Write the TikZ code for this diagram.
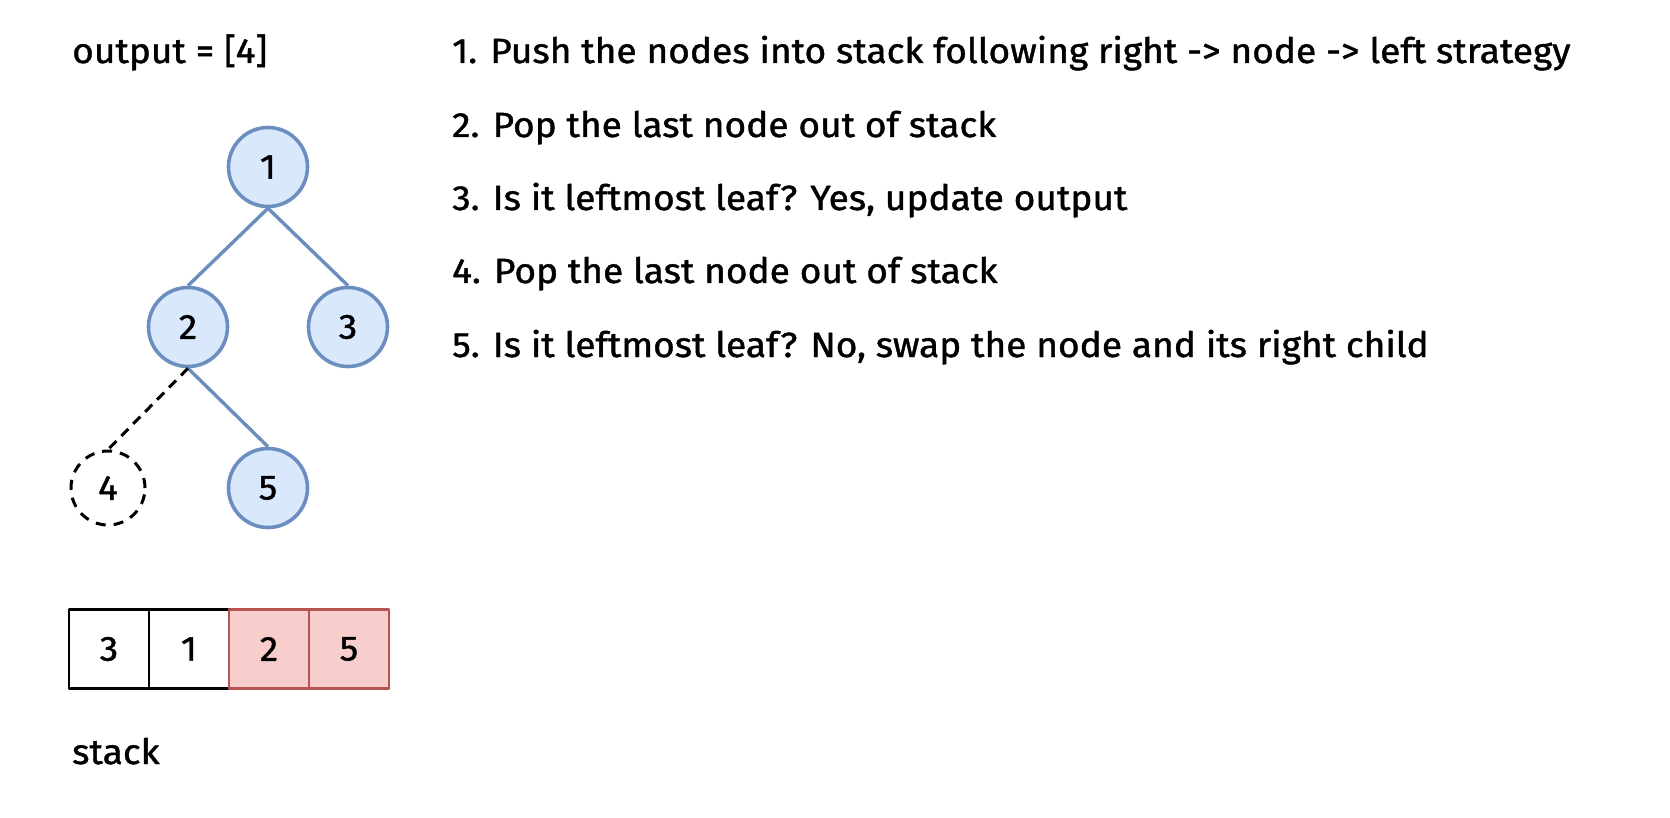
\documentclass[tikz,border=0pt]{standalone}
\usepackage{fontspec}
\setmainfont{Fira Sans}[FakeBold=1.2,FakeStretch=1.06]
\definecolor{treefill}{HTML}{DAE8FC}
\definecolor{treeline}{HTML}{6C8EBF}
\definecolor{popfill}{HTML}{F8CECC}
\definecolor{popline}{HTML}{B85450}

\begin{document}
\begin{tikzpicture}[
  x=1pt,
  y=-1pt,
  line join=round,
  font=\fontsize{35}{42}\selectfont,
  treenode/.style={circle,draw=treeline,fill=treefill,line width=3.6pt,minimum size=79pt,inner sep=0pt},
  leafnode/.style={circle,draw=black,line width=3pt,dash pattern=on 10pt off 8pt,minimum size=74pt,inner sep=0pt},
  treeedge/.style={draw=treeline,line width=3.4pt},
  leafedge/.style={draw=black,line width=3pt,dash pattern=on 10pt off 7pt},
  cell/.style={rectangle,draw=black,line width=2.2pt,minimum width=80pt,minimum height=79pt,inner sep=0pt,outer sep=0pt},
  popcell/.style={cell,draw=popline,fill=popfill},
  caption/.style={anchor=base west,inner sep=0pt}
]
  \useasboundingbox (0,0) rectangle (1670,818);

  % Binary tree, node 4 already taken out.
  \node[treenode] (n1) at (268,167) {1};
  \node[treenode] (n2) at (188,327) {2};
  \node[treenode] (n3) at (348,327) {3};
  \node[leafnode] (n4) at (108,488) {4};
  \node[treenode] (n5) at (268,488) {5};

  \draw[treeedge] (n1.south) -- (n2.north);
  \draw[treeedge] (n1.south) -- (n3.north);
  \draw[treeedge] (n2.south) -- (n5.north);
  \draw[leafedge] (n2.south) -- (n4.north);

  % Stack, bottom on the left; the red cells are the last pushed.
  \node[cell] (s3) at (109,649) {3};
  \node[cell] (s1) at (189,649) {1};
  \node[popcell] (s2) at (269,649) {2};
  \node[popcell] (s5) at (349,649) {5};

  \node[caption] (output) at (72,63) {output = [4]};
  \node[caption] (stacklabel) at (72,764) {stack};

  % Steps of the traversal.
  \foreach \i/\y/\txt in {
      1/63/{Push the nodes into stack following right -> node -> left strategy},
      2/137/{Pop the last node out of stack},
      3/210/{Is it leftmost leaf? Yes, update output},
      4/283/{Pop the last node out of stack},
      5/357/{Is it leftmost leaf? No, swap the node and its right child}} {
    \node[caption] (step\i) at (452,\y) {\i. \txt};
  }
\end{tikzpicture}
\end{document}
